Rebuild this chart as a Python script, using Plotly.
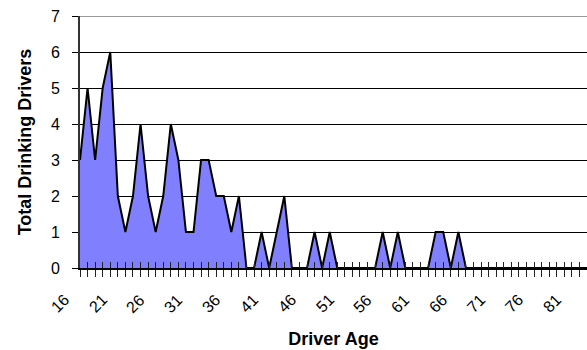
import plotly.graph_objects as go

# Number of drinking drivers by driver age
ages = list(range(16, 84))
drivers = [
    3, 5, 3, 5, 6, 2, 1, 2, 4, 2,   # 16-25
    1, 2, 4, 3, 1, 1, 3, 3, 2, 2,   # 26-35
    1, 2, 0, 0, 1, 0, 1, 2, 0, 0,   # 36-45
    0, 1, 0, 1, 0, 0, 0, 0, 0, 0,   # 46-55
    1, 0, 1, 0, 0, 0, 0, 1, 1, 0,   # 56-65
    1, 0, 0, 0, 0, 0, 0, 0, 0, 0,   # 66-75
    0, 0, 0, 0, 0, 0, 0, 0,         # 76-83
]
label_ages = list(range(16, 84, 5))
tick_text = [str(a) if a in label_ages else "" for a in ages]
y_ticks = list(range(0, 8))

FONT = "Arial, Liberation Sans, sans-serif"

fig = go.Figure()
fig.add_trace(go.Scatter(
    x=ages, y=drivers, mode="lines",
    line=dict(color="black", width=2),
    fill="tozeroy", fillcolor="#8080FF",
    showlegend=False, hoverinfo="x+y",
))
# invisible trace carrying the inner half of the crossing category ticks
fig.add_trace(go.Scatter(
    x=[ages[0], ages[-1]], y=[0, 0], xaxis="x2", mode="lines",
    line=dict(color="rgba(0,0,0,0)"), showlegend=False, hoverinfo="skip",
))

# slanted age labels, right/top anchored just left of each labelled tick
label_annotations = [
    dict(
        x=a, y=0, xref="x", yref="y", text=str(a), showarrow=False,
        textangle=-45, xanchor="right", yanchor="top",
        xshift=-5, yshift=-20, font=dict(size=16, family=FONT, color="black"),
    )
    for a in label_ages
]

fig.update_layout(
    width=587, height=350,
    margin=dict(l=80, r=0, t=16, b=82),
    paper_bgcolor="white", plot_bgcolor="white",
    font=dict(family=FONT, color="black"),
    xaxis=dict(
        range=[ages[0], ages[-1]],
        tickmode="array", tickvals=ages, ticktext=tick_text,
        tickangle=-45, tickfont=dict(size=16, color="rgba(0,0,0,0)"),
        ticklabelstandoff=8,
        ticks="outside", ticklen=7, tickcolor="#222", tickwidth=1,
        showline=True, linecolor="black", linewidth=2,
        showgrid=False, zeroline=False,
        title=dict(text="<b>Driver Age</b>", font=dict(size=18), standoff=17),
    ),
    xaxis2=dict(
        overlaying="x", matches="x", range=[ages[0], ages[-1]],
        tickmode="array", tickvals=ages, showticklabels=False,
        ticks="inside", ticklen=6, tickcolor="#222", tickwidth=1,
        showgrid=False, zeroline=False, showline=False, side="bottom",
    ),
    yaxis=dict(
        range=[0, 7], tickmode="array", tickvals=y_ticks,
        tickfont=dict(size=16), ticklabelstandoff=9,
        ticks="outside", ticklen=6, tickcolor="black",
        showgrid=True, gridcolor="black", gridwidth=1,
        showline=True, linecolor="#333", linewidth=2,
        zeroline=False,
        title=dict(text="<b>Total Drinking Drivers</b>", font=dict(size=18), standoff=15),
    ),
    annotations=label_annotations,
    shapes=[dict(
        type="line", xref="paper", yref="y", x0=0, x1=1, y0=7, y1=7,
        line=dict(color="#999", width=2), layer="above",
    )],
)

fig.write_html("out.html")
